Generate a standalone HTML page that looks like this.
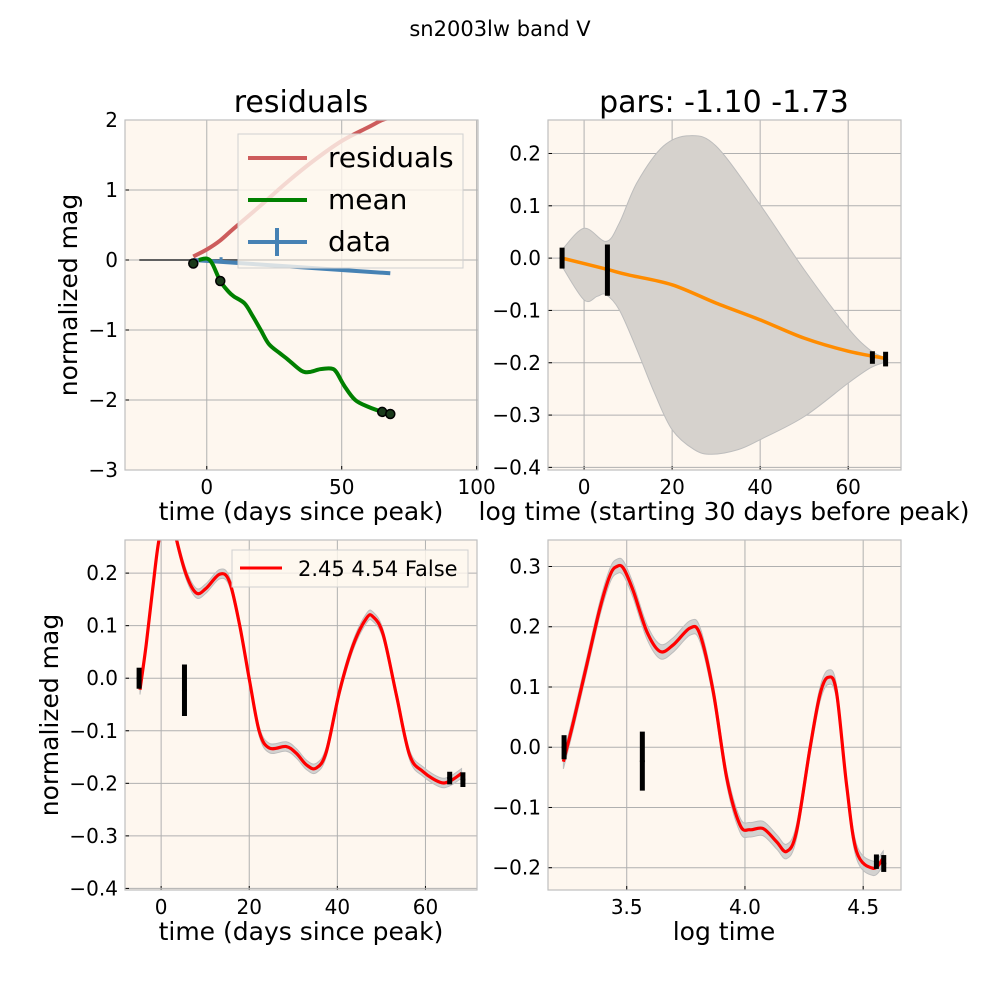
<!DOCTYPE html>
<html><head><meta charset="utf-8"><style>
html,body{margin:0;padding:0;background:#fff}
svg{display:block;font-family:"DejaVu Sans","Liberation Sans",sans-serif}
</style></head><body>
<svg id="fig" width="1000" height="1000" viewBox="0 0 1000 1000">
<text x="500" y="36" font-size="21" text-anchor="middle">sn2003lw band V</text>
</svg>
<script>
// ---------- data ----------
// panel A (residuals)
const aResX=[-5,0,5,10,20,30,40,50,60,65,68];
const aResY=[0.05,0.15,0.28,0.45,0.78,1.12,1.43,1.7,1.9,2.0,2.03];
const aDataX=[-5,68];
const aDataY=[0,-0.19];
const aZeroX=[-25,95];
const aMeanX=[-3,0,2,5,8,10,14,17,20,23,27,30,35,38,42,46,48,51,55,60,65,68];
const aMeanY=[0.0,0.02,-0.05,-0.3,-0.45,-0.52,-0.62,-0.8,-1.0,-1.2,-1.33,-1.42,-1.58,-1.6,-1.56,-1.55,-1.6,-1.8,-2.0,-2.1,-2.17,-2.2];
const aDotX=[-5,5,65,68];
const aDotY=[-0.05,-0.3,-2.17,-2.2];
const aXTicks=[0,50,100];
const aYTicks=[2,1,0,-1,-2,-3];
// panel B (pars)
const bMeanX=[-5,5,10,20,30,40,50,60,68];
const bMeanY=[0,-0.021,-0.032,-0.051,-0.086,-0.118,-0.153,-0.178,-0.191];
const bUpX=[-5,0,5,8,12,18,24,30,40,50,60,65,68];
const bUpY=[0.016,0.057,0.032,0.067,0.144,0.214,0.234,0.214,0.102,-0.022,-0.134,-0.176,-0.189];
const bLoX=[-5,0,3,5,8,12,16,20,25,29,35,40,50,60,65,68];
const bLoY=[-0.016,-0.08,-0.073,-0.07,-0.099,-0.175,-0.258,-0.328,-0.366,-0.375,-0.366,-0.347,-0.303,-0.239,-0.21,-0.2];
const errX=[-5,5.3,65.5,68.5];
const errY=[0,-0.023,-0.19,-0.193];
const errE=[0.02,0.049,0.012,0.014];
const bXTicks=[0,20,40,60];
const bYTicks=[0.2,0.1,0.0,-0.1,-0.2,-0.3,-0.4];
// panel C (time)
const cX=[-4.8,-3.4,-1.9,-0.4,1.5,2.5,3.4,5.7,8.0,10.2,13.3,15.5,17.8,20.1,22.3,24.6,28.4,30.7,33.0,35.2,37.5,40.5,43.6,46.6,48.1,50.4,53.4,56.4,59.5,63.3,65.5,68.2];
const cY=[-0.022,0.063,0.171,0.267,0.31,0.31,0.267,0.197,0.162,0.171,0.198,0.184,0.102,-0.006,-0.102,-0.133,-0.13,-0.143,-0.165,-0.171,-0.14,-0.025,0.063,0.114,0.117,0.083,-0.032,-0.146,-0.178,-0.198,-0.196,-0.181];
const cXTicks=[0,20,40,60];
const cYTicks=[0.2,0.1,0.0,-0.1,-0.2,-0.3,-0.4];
// panel D (log time)
const dX=[3.232,3.275,3.331,3.387,3.43,3.458,3.486,3.528,3.585,3.641,3.697,3.768,3.81,3.866,3.923,3.979,4.021,4.077,4.134,4.176,4.218,4.275,4.317,4.352,4.387,4.43,4.472,4.542,4.585];
const dY=[-0.024,0.043,0.137,0.231,0.286,0.3,0.297,0.259,0.192,0.159,0.17,0.198,0.187,0.092,-0.051,-0.129,-0.137,-0.135,-0.157,-0.173,-0.14,-0.002,0.087,0.116,0.092,-0.063,-0.173,-0.201,-0.184];
const dErrX=[3.235,3.566,4.556,4.587];
const dXTicks=[3.5,4.0,4.5];
const dXLabels=["3.5","4.0","4.5"];
const dYTicks=[0.3,0.2,0.1,0.0,-0.1,-0.2];

// ---------- helpers ----------
const NS="http://www.w3.org/2000/svg";
const fig=document.getElementById('fig');
function el(tag,attrs,parent){const e=document.createElementNS(NS,tag);for(const k in attrs)e.setAttribute(k,attrs[k]);(parent||fig).appendChild(e);return e;}
function fmt(v,d){let s=v.toFixed(d);if(Math.abs(v)<1e-9)s=(0).toFixed(d);return s.replace('-','\u2212');}
function smooth(pts){
  if(pts.length<2)return '';
  let d='M'+pts[0][0].toFixed(2)+','+pts[0][1].toFixed(2);
  for(let i=0;i<pts.length-1;i++){
    const p0=pts[i-1]||pts[i],p1=pts[i],p2=pts[i+1],p3=pts[i+2]||p2;
    const c1=[p1[0]+(p2[0]-p0[0])/6,p1[1]+(p2[1]-p0[1])/6];
    const c2=[p2[0]-(p3[0]-p1[0])/6,p2[1]-(p3[1]-p1[1])/6];
    d+=' C'+c1[0].toFixed(2)+','+c1[1].toFixed(2)+' '+c2[0].toFixed(2)+','+c2[1].toFixed(2)+' '+p2[0].toFixed(2)+','+p2[1].toFixed(2);
  }
  return d;
}
function makeAxes(id,L,T,R,B,x0,x1,y0,y1,xt,xl,yt,yl){
  const sx=v=>L+(v-x0)/(x1-x0)*(R-L);
  const sy=v=>B-(v-y0)/(y1-y0)*(B-T);
  const g=el('g',{});
  
  
  const bg=el('rect',{x:L,y:T,width:R-L,height:B-T,fill:'#fef7ef'},g);
  
  
  const cp=el('clipPath',{id:'clip-'+id},g);
  el('rect',{x:L,y:T,width:R-L,height:B-T},cp);
  xt.forEach((v,i)=>{
    const x=sx(v);
    const gl=el('line',{x1:x,x2:x,y1:T,y2:B,stroke:'#b0b0b0','stroke-width':1},g);
    
    
    el('line',{x1:x,x2:x,y1:B,y2:B-4,stroke:'#000','stroke-width':1},g);
    const t=el('text',{x:x,y:B+24,'font-size':20,'text-anchor':'middle'},g);
    t.textContent=xl[i];
    
    
  });
  yt.forEach((v,i)=>{
    const y=sy(v);
    const gl=el('line',{x1:L,x2:R,y1:y,y2:y,stroke:'#b0b0b0','stroke-width':1},g);
    
    
    el('line',{x1:L,x2:L+4,y1:y,y2:y,stroke:'#000','stroke-width':1},g);
    const t=el('text',{x:L-7,y:y+7,'font-size':20,'text-anchor':'end'},g);
    t.textContent=yl[i];
    
    
  });
  const plot=el('g',{'clip-path':'url(#clip-'+id+')'},g);
  const fr=el('rect',{x:L,y:T,width:R-L,height:B-T,fill:'none',stroke:'#bfbfbf','stroke-width':1.2});
  
  
  return {sx,sy,plot,g};
}
function line(ax,xs,ys,color,w,name){
  const p=el('path',{d:smooth(xs.map((x,i)=>[ax.sx(x),ax.sy(ys[i])])),fill:'none',stroke:color,'stroke-width':w,'stroke-linejoin':'round','stroke-linecap':'butt'},ax.plot);
  
  
  return p;
}
function band(ax,xs,ys,e,name){
  const up=xs.map((x,i)=>[ax.sx(x),ax.sy(ys[i]+e)]);
  const lo=xs.map((x,i)=>[ax.sx(x),ax.sy(ys[i]-e)]).reverse();
  const d=smooth(up)+' L'+lo[0][0]+','+lo[0][1]+smooth(lo).replace(/^M[^C]*/,'')+'Z';
  const p=el('path',{d:d,fill:'#c8c8c8','fill-opacity':0.8,stroke:'#bdbdbd','stroke-width':1},ax.plot);
  
  
}
function errbars(ax,xs,ys,es,id){
  xs.forEach((x,i)=>{
    const b=el('line',{x1:ax.sx(x),x2:ax.sx(x),y1:ax.sy(ys[i]+es[i]),y2:ax.sy(ys[i]-es[i]),stroke:'#000','stroke-width':5},ax.plot);
    
    
    const c=el('circle',{cx:ax.sx(x),cy:ax.sy(ys[i]),r:2.5,fill:'#000'},ax.plot);
    
    
  });
}
function label(x,y,txt,size,name,rot){
  const t=el('text',{x:x,y:y,'font-size':size,'text-anchor':'middle'});
  if(rot)t.setAttribute('transform','rotate(-90 '+x+' '+y+')');
  t.textContent=txt;
  
  
}

// ---------- panel A ----------
const A=makeAxes('residuals',125,120,478,470,-30.3,100.5,-3,2,aXTicks,aXTicks.map(v=>String(v)),aYTicks,aYTicks.map(v=>fmt(v,0)));
const z=el('line',{x1:A.sx(aZeroX[0]),x2:A.sx(aZeroX[1]),y1:A.sy(0),y2:A.sy(0),stroke:'#606060','stroke-width':2},A.plot);


line(A,aResX,aResY,'#cd5c5c',4,'residuals-line');
line(A,aDataX,aDataY,'#4682b4',4,'data-line');
const db=el('line',{x1:A.sx(5.3),x2:A.sx(5.3),y1:A.sy(0.04),y2:A.sy(-0.04),stroke:'#4682b4','stroke-width':3},A.plot);


line(A,aMeanX,aMeanY,'#008000',4,'mean-line');
aDotX.forEach((x,i)=>{
  const c=el('circle',{cx:A.sx(x),cy:A.sy(aDotY[i]),r:4.5,fill:'#1a3a1a',stroke:'#000','stroke-width':1.5},A.plot);
  
  
});
// legend A
const lg=el('g',{});


el('rect',{x:238,y:134,width:225,height:134,fill:'#fef7ef','fill-opacity':0.8,stroke:'#d0d0d0','stroke-width':1},lg);
[['residuals','#cd5c5c',158],['mean','#008000',200],['data','#4682b4',242]].forEach(([t,c,y])=>{
  el('line',{x1:248,x2:307,y1:y,y2:y,stroke:c,'stroke-width':4},lg);
  if(t==='data')el('line',{x1:277,x2:277,y1:y-14,y2:y+14,stroke:c,'stroke-width':4},lg);
  const tx=el('text',{x:328,y:y+9,'font-size':28},lg);
  tx.textContent=t;
  
  
});
label(301,112,'residuals',30,'residuals-title');
label(301,520,'time (days since peak)',25,'residuals-x-axis-title');
label(77,295,'normalized mag',25,'residuals-y-axis-title',true);

// ---------- panel B ----------
const B=makeAxes('pars',548,120,901,470,-8.2,72,-0.405,0.264,bXTicks,bXTicks.map(v=>String(v)),bYTicks,bYTicks.map(v=>fmt(v,1)));
{
  const up=bUpX.map((x,i)=>[B.sx(x),B.sy(bUpY[i])]);
  const lo=bLoX.map((x,i)=>[B.sx(x),B.sy(bLoY[i])]).reverse();
  const d=smooth(up)+' L'+lo[0][0]+','+lo[0][1]+smooth(lo).replace(/^M[^C]*/,'')+'Z';
  const p=el('path',{d:d,fill:'#d6d2cd',stroke:'#bdbdbd','stroke-width':1},B.plot);
  
  
}
line(B,bMeanX,bMeanY,'#ff8c00',3.5,'pars-mean-line');
errbars(B,errX,errY,errE,'pars');
label(724,112,'pars: -1.10 -1.73',30,'pars-title');
label(724,520,'log time (starting 30 days before peak)',25,'pars-x-axis-title');

// ---------- panel C ----------
const C=makeAxes('time',125,540,477,890,-8.2,71.7,-0.403,0.263,cXTicks,cXTicks.map(v=>String(v)),cYTicks,cYTicks.map(v=>fmt(v,1)));
band(C,cX,cY,0.009,'time-band');
line(C,cX,cY,'#ff0000',3.2,'time-fit-line');
errbars(C,errX,errY,errE,'time');
const lg2=el('g',{});


el('rect',{x:232,y:550,width:236,height:37,fill:'#fef7ef','fill-opacity':0.8,stroke:'#d0d0d0','stroke-width':1},lg2);
el('line',{x1:240,x2:282,y1:568,y2:568,stroke:'#ff0000','stroke-width':3},lg2);
const lt=el('text',{x:298,y:576,'font-size':21},lg2);
lt.textContent='2.45 4.54 False';


label(301,940,'time (days since peak)',25,'time-x-axis-title');
label(58,715,'normalized mag',25,'time-y-axis-title',true);

// ---------- panel D ----------
const D=makeAxes('logtime',548,540,901,890,3.167,4.66,-0.237,0.344,dXTicks,dXLabels,dYTicks,dYTicks.map(v=>fmt(v,1)));
band(D,dX,dY,0.012,'logtime-band');
line(D,dX,dY,'#ff0000',3.2,'logtime-fit-line');
errbars(D,dErrX,errY,errE,'logtime');
label(724,940,'log time',25,'logtime-x-axis-title');
</script>
</body></html>
